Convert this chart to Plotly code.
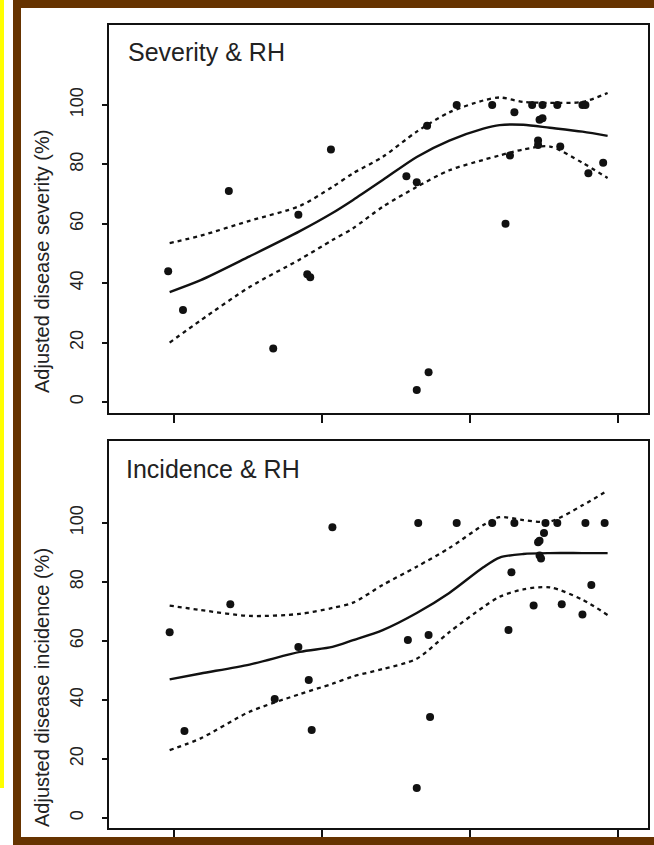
import plotly.graph_objects as go

W, H = 654, 845

# ---------------- data (x in arbitrary RH units; tick marks at 60,70,80,90) ----------------
sev_x = [59.6, 60.6, 63.7, 66.7, 68.4, 69.0, 69.2, 70.6, 75.7, 76.4, 76.4, 77.2, 77.1,
         79.1, 81.5, 82.7, 82.4, 83.0, 84.2, 84.9, 85.9, 87.6, 87.8, 84.7, 84.9,
         84.6, 84.6, 86.1, 88.0, 89.0]
sev_y = [44, 31, 71, 18, 63, 43, 42, 85, 76, 74, 4, 10, 93,
         100, 100, 83, 60, 97.5, 100, 100, 100, 100, 100, 95, 95.5,
         88, 86.5, 86, 77, 80.5]

inc_x = [59.7, 60.7, 63.8, 66.8, 68.4, 69.1, 69.3, 70.7, 76.5, 79.1, 81.5, 83.0, 85.1,
         85.9, 87.8, 89.1, 85.0, 84.7, 84.6, 84.7, 84.8, 82.8, 88.2, 84.3, 86.2,
         87.6, 82.6, 75.8, 77.2, 77.3, 76.4]
inc_y = [63, 29.5, 72.5, 40.3, 58, 46.8, 29.8, 98.6, 100, 100, 100, 100, 100,
         100, 100, 100, 96.6, 94, 93.5, 89, 88, 83.3, 79, 72, 72.5,
         69, 63.7, 60.3, 62, 34.2, 10.2]

fit_x = [59.7, 61.8, 65.1, 68.5, 70.7, 72.1, 74.1, 76.4, 78.6, 80.9, 82.0, 83.6, 85.4, 87.6, 89.3]
sev_fit = [37, 41, 49, 57.5, 63.6, 68, 74.7, 82.5, 88, 92, 93.2, 93.3, 92.3, 91, 89.6]
sev_up = [53.5, 56, 61, 66, 72.4, 77, 82.5, 91, 97.5, 101.5, 102.5, 101, 100.7, 101, 104]
sev_lo = [20, 27.5, 38.7, 48, 54.5, 58.5, 65.7, 72.4, 78, 81.5, 83, 85, 86, 80.5, 75.4]

inc_fit = [47, 49, 52, 56.3, 58, 60.3, 63.7, 69.5, 76.3, 85, 88.3, 89.5, 89.8, 89.8, 89.8]
inc_up = [72, 70.5, 68.5, 69.2, 71.2, 73, 79, 85.2, 91.5, 99.3, 102, 101, 100.5, 106, 111]
inc_lo = [23, 27, 36, 42, 45.5, 48, 50.5, 54, 63, 71.5, 75, 77.5, 78.2, 74, 68.8]

x_ticks = [60, 70, 80, 90]
y_ticks = [0, 20, 40, 60, 80, 100]

panel_titles = ["Severity & RH", "Incidence & RH"]
y_titles = ["Adjusted disease severity (%)", "Adjusted disease incidence (%)"]

# ---------------- figure ----------------
fig = go.Figure()
FONT = "Liberation Sans, Arial, sans-serif"

def add_panel(xa, ya, px, py, fx, fy, up, lo):
    for band in (up, lo):
        fig.add_trace(go.Scatter(x=fx, y=band, mode="lines", xaxis=xa, yaxis=ya,
                                 line=dict(color="#111", width=2.3, dash="4px,4px", shape="spline",
                                           smoothing=0.8),
                                 showlegend=False, hoverinfo="skip"))
    fig.add_trace(go.Scatter(x=fx, y=fy, mode="lines", xaxis=xa, yaxis=ya,
                             line=dict(color="#111", width=2.4, shape="spline", smoothing=0.8),
                             showlegend=False, hoverinfo="skip"))
    fig.add_trace(go.Scatter(x=px, y=py, mode="markers", xaxis=xa, yaxis=ya,
                             marker=dict(color="#111", size=8),
                             showlegend=False))

add_panel("x", "y", sev_x, sev_y, fit_x, sev_fit, sev_up, sev_lo)
add_panel("x2", "y2", inc_x, inc_y, fit_x, inc_fit, inc_up, inc_lo)

def px2x(p):
    return p / W

def py2y(p):
    return 1 - p / H

xdom = [px2x(109), px2x(648)]
xrange_ = [55.6, 92.03]

axis_common = dict(showline=True, linecolor="#111", linewidth=1.6, mirror=True,
                   showgrid=False, zeroline=False, ticks="outside", tickcolor="#111")

fig.update_layout(
    width=W, height=H,
    margin=dict(l=0, r=0, t=0, b=0),
    paper_bgcolor="white", plot_bgcolor="white",
    font=dict(family=FONT, color="#222"),
    xaxis=dict(domain=xdom, range=xrange_, tickvals=x_ticks, showticklabels=False,
               ticklen=8, tickwidth=1.5, anchor="y", **axis_common),
    yaxis=dict(domain=[py2y(413), py2y(25)], range=[-3.7, 126.9], tickvals=y_ticks,
               tickangle=-90, ticklen=5, tickwidth=1.5, tickfont=dict(size=18, color="#222"),
               ticklabelstandoff=12, anchor="x", **axis_common),
    xaxis2=dict(domain=xdom, range=xrange_, tickvals=x_ticks, showticklabels=False,
                ticklen=8, tickwidth=1.5, anchor="y2", **axis_common),
    yaxis2=dict(domain=[py2y(828), py2y(441)], range=[-3.39, 127.8], tickvals=y_ticks,
                tickangle=-90, ticklen=5, tickwidth=1.5, tickfont=dict(size=18, color="#222"),
                ticklabelstandoff=12, anchor="x2", **axis_common),
)

shapes = [
    # yellow strip
    dict(type="rect", xref="paper", yref="paper", x0=0, x1=px2x(4), y0=py2y(788), y1=1,
         fillcolor="#FFFF00", line=dict(width=0), layer="below"),
    # brown frame: left, top, bottom
    dict(type="rect", xref="paper", yref="paper", x0=px2x(13), x1=px2x(21), y0=0, y1=1,
         fillcolor="#663300", line=dict(width=0)),
    dict(type="rect", xref="paper", yref="paper", x0=px2x(13), x1=1, y0=py2y(8), y1=1,
         fillcolor="#663300", line=dict(width=0)),
    dict(type="rect", xref="paper", yref="paper", x0=px2x(13), x1=1, y0=0, y1=py2y(837),
         fillcolor="#663300", line=dict(width=0)),
]
fig.update_layout(shapes=shapes)

annotations = [
    dict(text=panel_titles[0], xref="paper", yref="paper", x=px2x(126), y=py2y(52),
         xanchor="left", yanchor="middle", showarrow=False, font=dict(size=25, color="#222")),
    dict(text=panel_titles[1], xref="paper", yref="paper", x=px2x(124), y=py2y(469),
         xanchor="left", yanchor="middle", showarrow=False, font=dict(size=25, color="#222")),
    dict(text=y_titles[0], xref="paper", yref="paper", x=px2x(42), y=py2y(262),
         xanchor="center", yanchor="middle", textangle=-90, showarrow=False,
         font=dict(size=20, color="#222")),
    dict(text=y_titles[1], xref="paper", yref="paper", x=px2x(42), y=py2y(688),
         xanchor="center", yanchor="middle", textangle=-90, showarrow=False,
         font=dict(size=20, color="#222")),
]
fig.update_layout(annotations=annotations)

fig.write_html("out.html")
